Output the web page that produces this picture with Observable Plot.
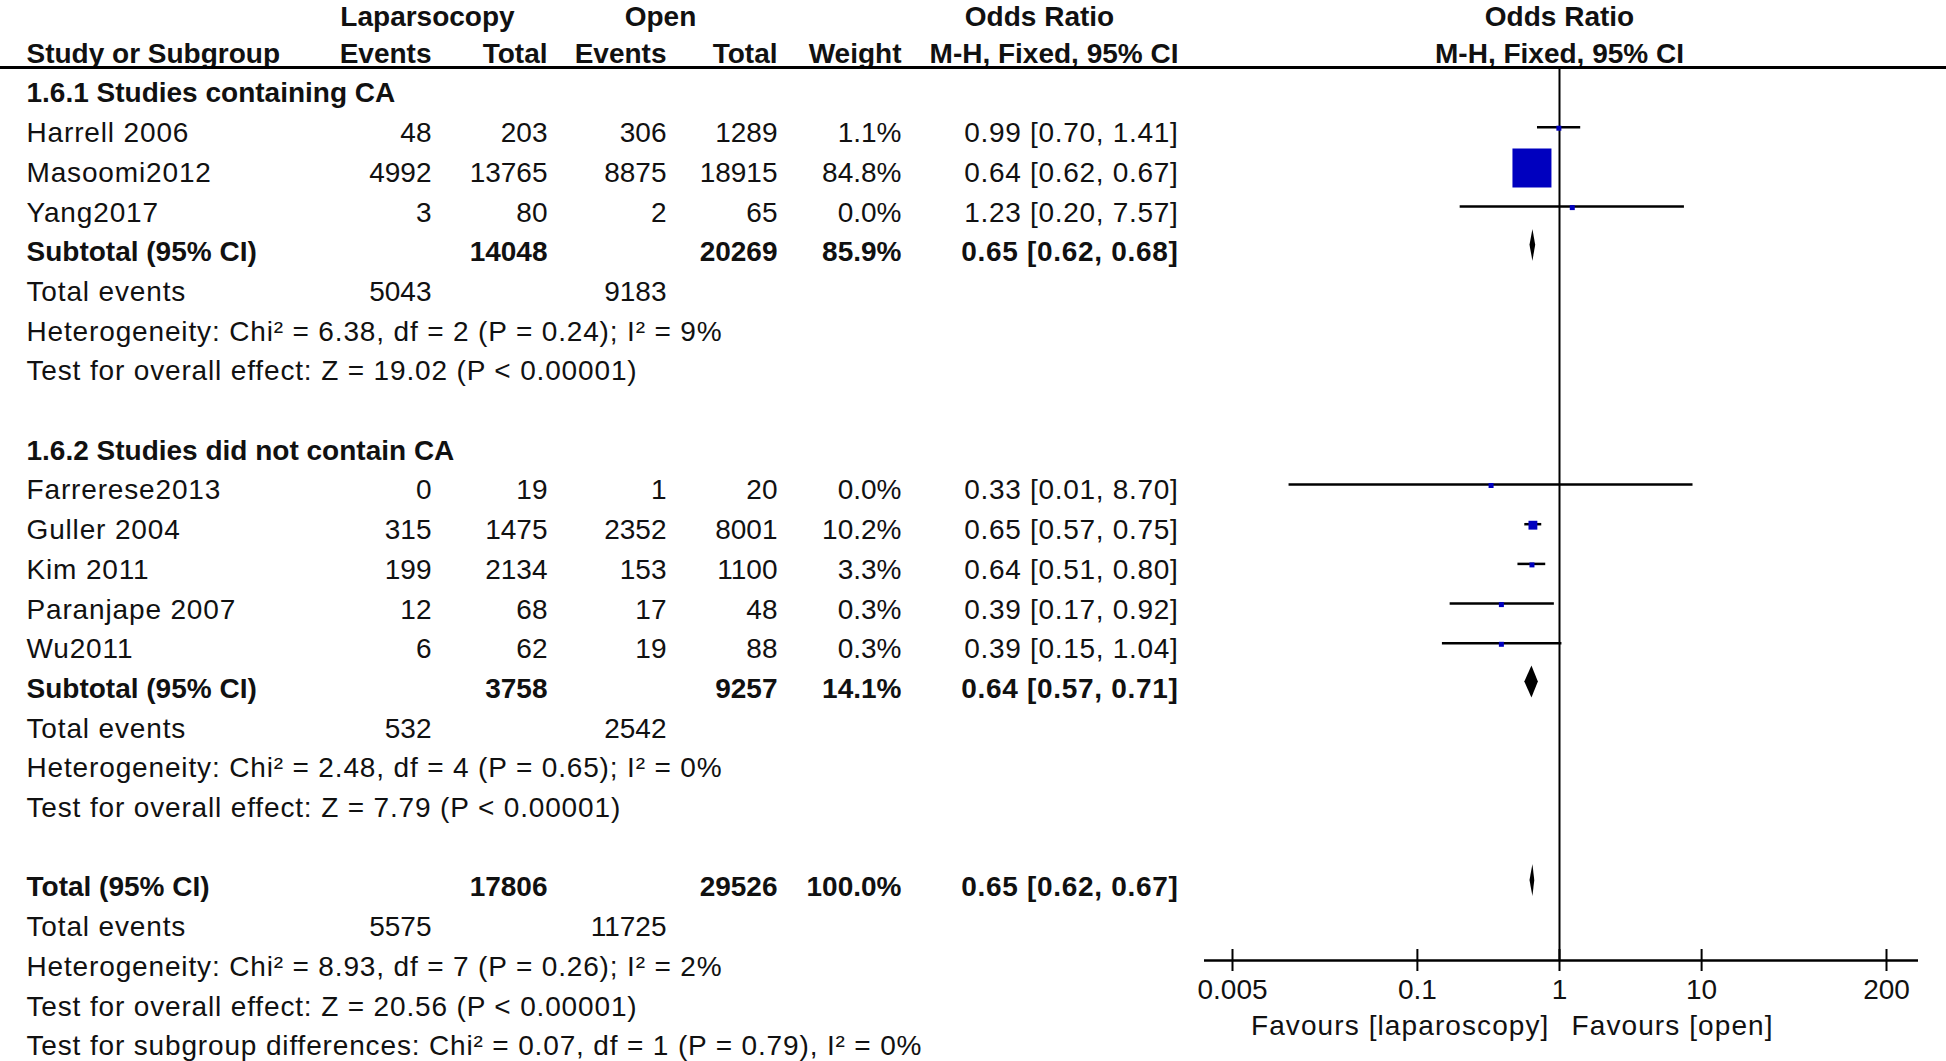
<!DOCTYPE html>
<html><head><meta charset="utf-8">
<script src="https://cdn.jsdelivr.net/npm/d3@7"></script>
<script src="https://cdn.jsdelivr.net/npm/@observablehq/plot@0.6"></script>
<style>
html,body{margin:0;padding:0;background:#fff;overflow:hidden}
</style>
</head><body><div id="chart"></div>
<script>
// ---------- data ----------
const groupNames = ["1.6.1 Studies containing CA", "1.6.2 Studies did not contain CA"];
const studyGroup = [0, 0, 0, 1, 1, 1, 1, 1];
const studies = ["Harrell 2006", "Masoomi2012", "Yang2017", "Farrerese2013", "Guller 2004", "Kim 2011", "Paranjape 2007", "Wu2011"];
const lapEvents = [48, 4992, 3, 0, 315, 199, 12, 6];
const lapTotal = [203, 13765, 80, 19, 1475, 2134, 68, 62];
const openEvents = [306, 8875, 2, 1, 2352, 153, 17, 19];
const openTotal = [1289, 18915, 65, 20, 8001, 1100, 48, 88];
const weights = [1.1, 84.8, 0.0, 0.0, 10.2, 3.3, 0.3, 0.3];
const oddsRatio = [0.99, 0.64, 1.23, 0.33, 0.65, 0.64, 0.39, 0.39];
const ciLow = [0.70, 0.62, 0.20, 0.0125, 0.57, 0.51, 0.17, 0.15];
const ciHigh = [1.41, 0.67, 7.57, 8.70, 0.75, 0.80, 0.92, 1.04];

const summaryNames = ["Subtotal (95% CI)", "Subtotal (95% CI)", "Total (95% CI)"];
const summaryLapTotal = [14048, 3758, 17806];
const summaryOpenTotal = [20269, 9257, 29526];
const summaryWeight = [85.9, 14.1, 100.0];
const summaryOR = [0.65, 0.64, 0.65];
const summaryLow = [0.62, 0.57, 0.62];
const summaryHigh = [0.68, 0.71, 0.67];
const summaryLapEvents = [5043, 532, 5575];
const summaryOpenEvents = [9183, 2542, 11725];
const heterogeneity = [
  "Heterogeneity: Chi² = 6.38, df = 2 (P = 0.24); I² = 9%",
  "Heterogeneity: Chi² = 2.48, df = 4 (P = 0.65); I² = 0%",
  "Heterogeneity: Chi² = 8.93, df = 7 (P = 0.26); I² = 2%"
];
const overallEffect = [
  "Test for overall effect: Z = 19.02 (P < 0.00001)",
  "Test for overall effect: Z = 7.79 (P < 0.00001)",
  "Test for overall effect: Z = 20.56 (P < 0.00001)"
];
const subgroupTest = "Test for subgroup differences: Chi² = 0.07, df = 1 (P = 0.79), I² = 0%";

const axisTicks = [0.005, 0.1, 1, 10, 200];
const favourLabels = ["Favours [laparoscopy]", "Favours [open]"];
const header1 = {lap: "Laparsocopy", open: "Open", or: "Odds Ratio"};
const header2 = {name: "Study or Subgroup", lapE: "Events", lapT: "Total", opE: "Events", opT: "Total", w: "Weight", or: "M-H, Fixed, 95% CI"};

// ---------- layout (styles) ----------
const W = 1946, H = 1061;
const ROW0 = 93, PITCH = 39.7;              // pixel centre of row 0 and row pitch
const toRow = px => (px - ROW0) / PITCH;
const HEADER1_ROW = toRow(16.5);
const HEADER2_ROW = -1;
const HEADER_RULE = toRow(67);
const AXIS_PX = 960;
const AXIS_ROW = toRow(AXIS_PX);
const FAVOUR_ROW = toRow(1026);
const FONT = "'Liberation Sans', Arial, sans-serif";
const FS = 28;
const cols = {
  name: {x: 26, anchor: "start", spacing: {regular: 0.85, bold: 0}},
  lapE: {x: 431, anchor: "end"},
  lapT: {x: 547, anchor: "end"},
  opE: {x: 666, anchor: "end"},
  opT: {x: 777, anchor: "end"},
  w: {x: 901, anchor: "end"},
  or: {x: 1178, anchor: "end", spacing: {regular: 0.7, bold: 0.7}},
  h_lap: {x: 427, anchor: "middle"},
  h_open: {x: 660, anchor: "middle"},
  h_or: {x: 1039, anchor: "middle"}
};
const fmt2 = v => v.toFixed(2);
const orText = (o, l, h) => `${fmt2(o)} [${fmt2(l)}, ${fmt2(h)}]`;

// ---------- build rows ----------
const cells = [];
const studyMarks = [];
const summaryMarks = [];
const add = (row, col, text, bold = false) => cells.push({row, col, text: String(text), bold, header: row < 0});
let r = 0;
function addSummary(k) {
  add(r, "name", summaryNames[k], true);
  add(r, "lapT", summaryLapTotal[k], true);
  add(r, "opT", summaryOpenTotal[k], true);
  add(r, "w", summaryWeight[k].toFixed(1) + "%", true);
  add(r, "or", orText(summaryOR[k], summaryLow[k], summaryHigh[k]), true);
  summaryMarks.push({id: k, row: r, or: summaryOR[k], lo: summaryLow[k], hi: summaryHigh[k]});
  r++;
  add(r, "name", "Total events");
  add(r, "lapE", summaryLapEvents[k]);
  add(r, "opE", summaryOpenEvents[k]);
  r++;
  add(r, "name", heterogeneity[k]); r++;
  add(r, "name", overallEffect[k]); r++;
}
groupNames.forEach((g, gi) => {
  add(r, "name", g, true); r++;
  studies.forEach((s, i) => {
    if (studyGroup[i] !== gi) return;
    add(r, "name", s);
    add(r, "lapE", lapEvents[i]);
    add(r, "lapT", lapTotal[i]);
    add(r, "opE", openEvents[i]);
    add(r, "opT", openTotal[i]);
    add(r, "w", weights[i].toFixed(1) + "%");
    add(r, "or", orText(oddsRatio[i], ciLow[i], ciHigh[i]));
    studyMarks.push({row: r, or: oddsRatio[i], lo: ciLow[i], hi: ciHigh[i], w: weights[i]});
    r++;
  });
  addSummary(gi);
  r++; // blank row
});
addSummary(2);
add(r, "name", subgroupTest); r++;

// header cells
add(HEADER1_ROW, "h_lap", header1.lap, true);
add(HEADER1_ROW, "h_open", header1.open, true);
add(HEADER1_ROW, "h_or", header1.or, true);
Object.entries(header2).forEach(([k, t]) => add(HEADER2_ROW, k, t, true));

const diamondPts = summaryMarks.flatMap(d => [
  {id: d.id, x: d.lo, y1: d.row, y2: d.row},
  {id: d.id, x: d.or, y1: d.row - 0.4, y2: d.row + 0.4},
  {id: d.id, x: d.hi, y1: d.row, y2: d.row}
]);

// one text mark per column / weight / header; remember letter-spacing per mark index
const marks = [];
const spacingByIndex = new Map();
for (const [key, c] of Object.entries(cols)) {
  for (const header of [false, true]) {
    for (const bold of [false, true]) {
      const data = cells.filter(d => d.col === key && d.bold === bold && d.header === header);
      if (!data.length) continue;
      const sp = (!header && c.spacing) ? c.spacing[bold ? "bold" : "regular"] : 0;
      if (sp) spacingByIndex.set(marks.length, sp);
      marks.push(Plot.text(data, {
        y: "row", text: "text", frameAnchor: "left", dx: c.x, textAnchor: c.anchor,
        fontWeight: bold ? "bold" : "normal", fontSize: FS, fill: "#111"
      }));
    }
  }
}

const squareSide = d => Math.max(5, 39 * Math.pow(d.w / 84.8, 0.7));

marks.push(
  // forest header centred on the line of no effect
  Plot.text([header1.or], {x: () => 1, y: () => HEADER1_ROW, text: d => d, fontWeight: "bold", fontSize: FS, fill: "#111"}),
  Plot.text([header2.or], {x: () => 1, y: () => HEADER2_ROW, text: d => d, fontWeight: "bold", fontSize: FS, fill: "#111"}),
  // header rule
  Plot.ruleY([HEADER_RULE], {insetRight: -28, stroke: "#000", strokeWidth: 3}),
  // line of no effect
  Plot.ruleX([1], {y1: HEADER_RULE, y2: AXIS_ROW, stroke: "#000", strokeWidth: 2}),
  // CI lines
  Plot.ruleY(studyMarks, {y: "row", x1: "lo", x2: "hi", dy: -6, stroke: "#000", strokeWidth: 2.5}),
  // weight squares
  Plot.dot(studyMarks, {x: "or", y: "row", dy: -5, symbol: "square", r: d => squareSide(d) / Math.sqrt(Math.PI), fill: "#0000bf", stroke: "none"}),
  // summary diamonds
  Plot.areaY(diamondPts, {x: "x", y1: "y1", y2: "y2", z: "id", fill: "#000", dy: -7, curve: "linear"}),
  // x axis: line, ticks, labels
  Plot.ruleY([AXIS_ROW], {insetLeft: 1204, stroke: "#000", strokeWidth: 2.5}),
  Plot.ruleX(axisTicks, {x: d => d, y1: AXIS_ROW, y2: AXIS_ROW, insetTop: -11, insetBottom: -11, stroke: "#000", strokeWidth: 2}),
  Plot.text(axisTicks, {x: d => d, y: () => AXIS_ROW, text: d => String(d), lineAnchor: "top", dy: 19, fontSize: FS, fill: "#111"})
);
spacingByIndex.set(marks.length, 1.1);
marks.push(Plot.text([favourLabels[0]], {x: () => 1, y: () => FAVOUR_ROW, text: d => d, dx: -10, textAnchor: "end", fontSize: FS, fill: "#111"}));
spacingByIndex.set(marks.length, 1.1);
marks.push(Plot.text([favourLabels[1]], {x: () => 1, y: () => FAVOUR_ROW, text: d => d, dx: 12, textAnchor: "start", fontSize: FS, fill: "#111"}));

const chart = Plot.plot({
  width: W, height: H,
  marginLeft: 0, marginRight: 28, marginTop: 0, marginBottom: H - AXIS_PX,
  style: {fontFamily: FONT, fontSize: FS + "px", color: "#111", background: "#fff"},
  x: {type: "log", domain: [0.005, 200], range: [1232, 1886], axis: null},
  y: {domain: [-2, 24], range: [ROW0 - 2 * PITCH, ROW0 + 24 * PITCH], axis: null},
  r: {type: "identity"},
  marks
});
// letter-spacing to imitate the wider bitmap font of the original
const groups = Array.from(chart.children).filter(el => el.tagName.toLowerCase() === "g");
spacingByIndex.forEach((sp, i) => {
  if (groups[i]) groups[i].style.letterSpacing = sp + "px";
});
document.getElementById("chart").appendChild(chart);
</script>
</body></html>
